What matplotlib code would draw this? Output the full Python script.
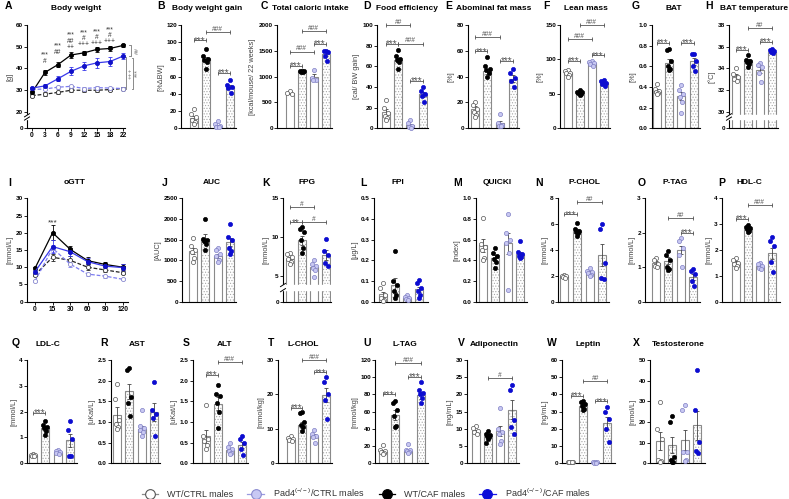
import numpy as np
import matplotlib
matplotlib.use('Agg')
import matplotlib.pyplot as plt
from matplotlib.lines import Line2D

plt.rcParams['font.family'] = ['Liberation Sans', 'DejaVu Sans']
plt.rcParams['mathtext.default'] = 'regular'
plt.rcParams['hatch.linewidth'] = 0.5

# ====================================================================
# Data
# bar panels: order WT/CTRL, WT/CAF, Pad4/CTRL, Pad4/CAF
# ====================================================================
LEGEND_LABELS = ['WT/CTRL males', 'Pad4$^{(-/-)}$/CTRL males',
                 'WT/CAF males', 'Pad4$^{(-/-)}$/CAF males']

# A - body weight over weeks
A_weeks = [0, 3, 6, 9, 12, 15, 18, 22]
A_wt_ctrl = [27.5, 28.2, 29.0, 30.0, 30.0, 30.0, 30.3, 30.8]
A_wt_ctrl_sem = [0.8, 0.8, 0.8, 0.9, 0.8, 0.8, 0.8, 0.8]
A_pad_ctrl = [30.3, 30.6, 31.4, 31.8, 30.8, 31.2, 31.0, 30.8]
A_pad_ctrl_sem = [0.6, 0.6, 0.6, 0.7, 0.6, 0.6, 0.6, 0.6]
A_wt_caf = [29.0, 38.2, 41.8, 46.2, 47.2, 48.8, 49.2, 50.6]
A_wt_caf_sem = [0.8, 1.2, 1.2, 1.2, 1.0, 1.0, 1.0, 0.6]
A_pad_caf = [31.0, 32.0, 35.3, 38.7, 41.2, 42.6, 43.2, 45.7]
A_pad_caf_sem = [0.6, 1.0, 1.2, 1.8, 2.0, 2.2, 2.0, 1.2]
# significance stacks above weeks 3..18
A_sig_text = ['***\n#', '***\n##', '***\n##\n++', '***\n#\n+++', '***\n#\n+++', '***\n#\n+++']
A_sig_y = [44.8, 48.8, 52.6, 53.8, 54.3, 55.2]

# I - oGTT over minutes
I_minutes = [0, 15, 30, 60, 90, 120]
I_wt_ctrl = [7.8, 12.9, 12.0, 10.0, 9.2, 8.4]
I_wt_ctrl_sem = [0.4, 1.0, 1.2, 0.8, 0.6, 0.5]
I_pad_ctrl = [6.0, 15.5, 10.9, 8.0, 7.4, 6.5]
I_pad_ctrl_sem = [0.3, 1.0, 0.8, 0.4, 0.4, 0.3]
I_wt_caf = [9.7, 20.0, 15.2, 11.9, 10.8, 10.0]
I_wt_caf_sem = [0.5, 2.2, 1.0, 1.0, 0.8, 0.8]
I_pad_caf = [8.7, 16.0, 14.5, 11.6, 10.3, 9.9]
I_pad_caf_sem = [0.6, 1.8, 1.2, 1.0, 1.0, 1.0]

B_mean = [12, 80, 3, 48.5]
B_sem = [2.5, 3.0, 1.2, 2.2]
B_pts = [[22, 17, 13, 10, 7, 5], [92, 84, 81, 79, 77, 69], [8, 5, 2.5, 1.5, 1], [56, 50, 48, 47, 41]]
B_sig = [(0, 1, '***', 102), (1, 3, '###', 112), (2, 3, '***', 64)]

C_mean = [690, 1100, 995, 1440]
C_sem = [25, 8, 55, 40]
C_pts = [[730, 690, 660], [1115, 1105, 1100, 1095, 1090], [1135, 975, 940, 935], [1500, 1490, 1470, 1400, 1300]]
C_sig = [(0, 1, '***', 1215), (0, 2, '###', 1485), (2, 3, '***', 1630), (1, 3, '###', 1885)]

D_mean = [15.5, 66, 3, 33]
D_sem = [2.8, 2.2, 1.3, 2.6]
D_pts = [[27, 20, 15, 12, 10, 8], [76, 70, 67, 66, 64, 57], [8, 5, 2, 1, 0.5], [40, 36, 33, 31, 25]]
D_sig = [(0, 2, '##', 100), (0, 1, '***', 82), (1, 3, '###', 82), (2, 3, '***', 46)]

E_mean = [15, 44, 4, 38.5]
E_sem = [2.0, 2.0, 1.6, 2.5]
E_pts = [[20, 18, 15, 13, 10, 9], [55, 48, 46, 45, 43, 40], [11, 4, 2.5, 2, 1.5], [46, 43, 39, 37, 32]]
E_sig = [(0, 2, '###', 71), (0, 1, '***', 59.5), (2, 3, '***', 52.5)]

F_mean = [80.5, 51.5, 94.5, 66]
F_sem = [1.8, 1.0, 1.4, 1.5]
F_pts = [[85, 83, 81, 80, 78, 75], [55, 53, 52, 51, 50, 49], [98, 96, 95, 93, 91], [70, 68, 66, 64, 62]]
F_sig = [(1, 3, '###', 150), (0, 2, '###', 129), (0, 1, '***', 98), (2, 3, '***', 106)]

G_mean = [0.365, 0.635, 0.31, 0.65]
G_sem = [0.015, 0.04, 0.04, 0.035]
G_pts = [[0.43, 0.38, 0.36, 0.35, 0.34, 0.33], [0.77, 0.76, 0.65, 0.60, 0.57, 0.56],
         [0.42, 0.37, 0.33, 0.30, 0.25, 0.15], [0.72, 0.72, 0.65, 0.60, 0.55]]
G_sig = [(0, 1, '***', 0.83), (2, 3, '***', 0.83)]

H_mean = [33.25, 34.7, 33.85, 35.5]
H_sem = [0.2, 0.15, 0.3, 0.1]
H_pts = [[34.0, 33.5, 33.2, 33.0, 32.8], [35.2, 34.8, 34.7, 34.6, 34.4, 34.1],
         [34.5, 34.3, 34.1, 33.6, 32.7], [35.8, 35.7, 35.6, 35.5, 35.4]]
H_sig = [(0, 1, '***', 35.7), (2, 3, '***', 36.45), (1, 3, '##', 37.7)]

J_mean = [1230, 1520, 1110, 1440]
J_sem = [80, 110, 45, 100]
J_pts = [[1530, 1350, 1250, 1200, 1050, 950], [2000, 1520, 1490, 1460, 1400, 1250],
         [1290, 1250, 1150, 1100, 1000, 950], [1880, 1560, 1480, 1300, 1230, 1160]]
J_sig = []

K_mean = [7.2, 9.6, 6.1, 7.75]
K_sem = [0.25, 0.55, 0.25, 0.65]
K_pts = [[8.0, 7.8, 7.4, 7.2, 6.8, 6.5], [11.3, 11.0, 10.7, 9.6, 8.6, 7.9],
         [7.0, 6.6, 6.3, 6.0, 5.8, 4.9], [9.8, 8.2, 7.7, 6.7, 6.3]]
K_sig = [(0, 2, '#', 13.9), (0, 1, '**', 11.9), (1, 3, '#', 11.9)]

L_mean = [0.035, 0.08, 0.02, 0.06]
L_sem = [0.013, 0.035, 0.005, 0.012]
L_pts = [[0.09, 0.065, 0.03, 0.02, 0.01, 0.005], [0.245, 0.1, 0.08, 0.05, 0.03, 0.02],
         [0.032, 0.025, 0.02, 0.015, 0.01], [0.105, 0.09, 0.065, 0.05, 0.03, 0.02]]
L_sig = []

M_mean = [0.545, 0.42, 0.565, 0.46]
M_sem = [0.06, 0.03, 0.1, 0.025]
M_pts = [[0.81, 0.56, 0.53, 0.5, 0.42, 0.40], [0.52, 0.47, 0.44, 0.41, 0.38, 0.33],
         [0.85, 0.66, 0.60, 0.57, 0.47, 0.11], [0.59, 0.48, 0.46, 0.44, 0.43, 0.42]]
M_sig = []

N_mean = [2.0, 5.5, 2.3, 3.6]
N_sem = [0.05, 0.15, 0.1, 0.85]
N_pts = [[2.1, 2.0, 1.95, 1.9, 1.85], [6.1, 5.6, 5.5, 5.4, 5.3, 5.05],
         [2.6, 2.4, 2.3, 2.2, 2.1, 2.0], [6.0, 5.6, 3.0, 1.8, 1.75]]
N_sig = [(0, 1, '***', 6.75), (1, 3, '##', 7.7)]

O_mean = [1.13, 1.19, 1.5, 0.71]
O_sem = [0.05, 0.1, 0.12, 0.09]
O_pts = [[1.27, 1.2, 1.1, 1.05, 1.0], [1.47, 1.35, 1.2, 1.0, 0.95, 0.93],
         [1.85, 1.75, 1.55, 1.35, 1.0], [0.95, 0.9, 0.8, 0.6, 0.45]]
O_sig = [(1, 3, '##', 2.42), (2, 3, '***', 2.0)]

P_mean = [1.5, 2.8, 1.37, 1.87]
P_sem = [0.06, 0.04, 0.06, 0.22]
P_pts = [[1.7, 1.6, 1.5, 1.45, 1.4, 1.3], [2.95, 2.9, 2.85, 2.8, 2.75, 2.7],
         [1.5, 1.45, 1.4, 1.3, 1.25], [2.5, 2.35, 2.15, 1.55, 1.15]]
P_sig = [(0, 1, '***', 3.2), (1, 3, '###', 3.75)]

Q_mean = [0.32, 1.35, 0.42, 0.9]
Q_sem = [0.02, 0.08, 0.03, 0.25]
Q_pts = [[0.36, 0.33, 0.32, 0.3, 0.28], [1.65, 1.5, 1.42, 1.35, 1.25, 1.1],
         [0.5, 0.46, 0.43, 0.4, 0.35], [1.62, 1.3, 0.95, 0.3, 0.3]]
Q_sig = [(0, 1, '***', 1.94)]

R_mean = [1.18, 1.74, 0.83, 1.25]
R_sem = [0.19, 0.19, 0.08, 0.22]
R_pts = [[1.93, 1.55, 1.05, 0.95, 0.88, 0.82], [2.3, 2.27, 1.6, 1.45, 1.15],
         [1.3, 0.9, 0.85, 0.8, 0.75, 0.65], [1.97, 1.3, 1.2, 1.1, 0.65]]
R_sig = []

S_mean = [0.65, 1.44, 0.32, 0.44]
S_sem = [0.15, 0.16, 0.04, 0.08]
S_pts = [[1.42, 0.65, 0.6, 0.55, 0.45, 0.35], [1.9, 1.68, 1.62, 1.45, 1.25, 0.85],
         [0.48, 0.4, 0.35, 0.3, 0.25, 0.22], [0.65, 0.6, 0.5, 0.35, 0.2]]
S_sig = [(0, 1, '***', 2.14), (1, 3, '###', 2.44)]

T_mean = [6.9, 11.2, 7.9, 19.9]
T_sem = [0.4, 0.9, 0.6, 2.0]
T_pts = [[7.8, 7.3, 7.0, 6.8, 6.5], [14.8, 14.5, 12.0, 11.0, 10.5, 9.5],
         [9.8, 8.5, 8.0, 7.5, 6.0], [25.0, 23.5, 20.0, 18.5, 13.0]]
T_sig = [(0, 1, '***', 16.0), (2, 3, '***', 26.4), (1, 3, '###', 30.0)]

U_mean = [13.5, 56, 13.8, 79]
U_sem = [1.5, 5.5, 1.5, 4.0]
U_pts = [[21, 16, 14, 13, 12, 11], [72, 70, 62, 55, 43, 42],
         [22, 16, 15, 14, 13, 12], [94, 85, 82, 80, 76, 70]]
U_sig = [(0, 1, '***', 80), (2, 3, '***', 100), (1, 3, '###', 116)]

V_mean = [9.3, 7.9, 9.3, 15.6]
V_sem = [0.5, 0.5, 1.4, 2.7]
V_pts = [[10.7, 10.2, 9.5, 9.0, 8.6], [9.5, 8.5, 8.2, 7.8, 7.5, 7.0, 5.8],
         [16.0, 10.0, 9.0, 8.5, 6.5, 5.5], [22.8, 21.2, 12.5, 10.5, 8.5]]
V_sig = [(1, 3, '#', 24.7)]

W_mean = [0.8, 33.5, 0.5, 23.5]
W_sem = [0.1, 0.8, 0.1, 3.5]
W_pts = [[1.0, 0.8, 0.7, 0.6, 0.5], [36.2, 35.5, 34.5, 33, 31.5, 31],
         [0.7, 0.6, 0.5, 0.4, 0.3], [32.5, 30, 26, 20, 12.5]]
W_sig = [(0, 1, '***', 39.3), (2, 3, '***', 36), (1, 3, '##', 48)]

X_mean = [10.8, 8.8, 11.2, 18.5]
X_sem = [4.5, 4.0, 5.0, 7.0]
X_pts = [[29.8, 16.5, 12, 1.5, 1.0, 0.5], [23, 20, 3.2, 1.8, 0.8, 0.5],
         [28, 26, 5.5, 5.3, 1.5, 1.0], [45, 26, 10.5, 6, 5]]
X_sig = []

# ====================================================================
# Styling
# ====================================================================
FW, FH = 789, 499
ROWS = {1: (25, 128.3), 2: (198.3, 301.7), 3: (360, 463.3)}
TITLE_Y = {1: 9, 2: 183, 3: 345}
LETTER_Y = {1: 6, 2: 182.5, 3: 343}

BAR_EDGE = '#8a8a8a'
HATCH_C = '#a8a8a8'
PT_FACE = ['white', 'black', '#c8c8f2', '#0c0cd0']
PT_EDGE = ['#555555', 'black', '#8080c4', '#0c0cd0']
SIG_C = '#555555'
OFFS = [0.0, -0.17, 0.17, -0.09, 0.09, 0.0, -0.17]

fig = plt.figure(figsize=(FW / 100, FH / 100), dpi=100)


def add_ax(left, right, row):
    top, bot = ROWS[row]
    return fig.add_axes([left / FW, 1 - bot / FH, (right - left) / FW, (bot - top) / FH])


def tick_text(ticks):
    if all(float(t).is_integer() for t in ticks):
        return ['%d' % t for t in ticks]
    return ['%.1f' % t for t in ticks]


def style(ax, yticks, ylabel):
    for s in ['top', 'right']:
        ax.spines[s].set_visible(False)
    for s in ['left', 'bottom']:
        ax.spines[s].set_linewidth(0.8)
    ax.set_yticks(yticks)
    ax.set_yticklabels(tick_text(yticks), fontweight='bold')
    ax.tick_params(axis='y', length=2, width=0.6, pad=1, labelsize=4.6)
    ax.minorticks_off()
    ax.set_ylabel(ylabel, fontsize=5.3, color='#444444', labelpad=1.5)


def set_break(ax, lo, comp):
    k = comp / lo

    def fwd(y):
        y = np.asarray(y, float)
        return np.where(y >= lo, y, lo - (lo - y) * k)

    def inv(t):
        t = np.asarray(t, float)
        return np.where(t >= lo, t, lo - (lo - t) / k)

    ax.set_yscale('function', functions=(fwd, inv))


def draw_break(ax, lo, comp, ymax, f1, f2, wpx, hpx):
    k = comp / lo
    ya, yb = lo * (1 - f2), lo * (1 - f1)
    ax.axhspan(ya, yb, xmin=-0.08, xmax=1.0, color='white', zorder=6, clip_on=False)
    tmin = lo - comp
    dx, dy = 2.5 / wpx, 1.6 / hpx
    for y in (ya, yb):
        t = lo - (lo - y) * k
        fy = (t - tmin) / (ymax - tmin)
        ax.plot([-dx, dx], [fy - dy, fy + dy], transform=ax.transAxes, color='black',
                lw=0.7, clip_on=False, zorder=7)


def bracket(ax, i, j, y, text):
    ax.plot([i, j], [y, y], color=SIG_C, lw=0.6, marker='|', ms=2.2, mew=0.6,
            clip_on=False, zorder=5)
    if '*' in text:
        fs, off = 7, -2.4
    else:
        fs, off = 4.8, 0.8
    ax.annotate(text, (0.5 * (i + j), y), xytext=(0, off), textcoords='offset points',
                ha='center', va='baseline', fontsize=fs, color=SIG_C,
                annotation_clip=False, zorder=5)


def draw_bars(ax, means, sems, pts, width):
    for i in range(4):
        if i in (1, 3):
            ax.bar(i, means[i], width, color='white', edgecolor=HATCH_C, hatch='......',
                   lw=0, zorder=1)
        ax.bar(i, means[i], width, fill=False, edgecolor=BAR_EDGE, lw=0.8, zorder=2)
        ax.errorbar(i, means[i], yerr=sems[i], fmt='none', ecolor='#444444',
                    elinewidth=0.6, capsize=1.4, capthick=0.6, zorder=3)
        vals = sorted(pts[i], reverse=True)
        xs = [i + OFFS[k % len(OFFS)] for k in range(len(vals))]
        ax.scatter(xs, vals, s=9, c=PT_FACE[i], edgecolors=PT_EDGE[i], linewidths=0.5,
                   zorder=4, clip_on=False)


def panel_text(letter, title, row, lx, cx):
    fig.text(lx / FW, 1 - LETTER_Y[row] / FH, letter, fontsize=7.5, fontweight='bold',
             ha='left', va='center')
    fig.text(cx / FW, 1 - TITLE_Y[row] / FH, title, fontsize=6, fontweight='bold',
             ha='center', va='center')


# ====================================================================
# Bar panels
# ====================================================================
# name, letter x, title, title centre x, row, left, right, first bar px, bar step px,
# ymax, ystep, ylabel
BAR_LAYOUT = [
    ('B', 157, 'Body weight gain', 207, 1, 181, 236, 193.5, 12.0, 120, 20, '[%\u0394BW]'),
    ('C', 261, 'Total caloric intake', 310, 1, 277, 332, 289.5, 12.2, 2000, 500, '[kcal/mouse/ 22 weeks]'),
    ('D', 363, 'Food efficiency', 407, 1, 377, 428, 386, 12.2, 100, 20, '[cal/ BW gain]'),
    ('E', 445, 'Abominal fat mass', 494, 1, 468, 519, 475, 12.5, 80, 20, '[%]'),
    ('F', 543, 'Lean mass', 586, 1, 560, 610, 567.5, 12.0, 150, 50, '[%]'),
    ('G', 632, 'BAT', 674, 1, 652, 700, 657, 12.2, 1.0, 0.2, '[%]'),
    ('H', 705, 'BAT temperature', 754, 1, 729, 778, 735.5, 12.2, 38, 2, '[\u00b0C]'),
    ('J', 162, 'AUC', 212, 2, 182, 236, 193, 12.3, 2500, 500, '[AUC]'),
    ('K', 262, 'FPG', 307, 2, 283, 331, 289.5, 12.3, 15, 5, '[mmol/L]'),
    ('L', 360, 'FPI', 398, 2, 374, 428, 382.5, 12.2, 0.5, 0.1, '[\u00b5g/L]'),
    ('M', 453, 'QUICKI', 497, 2, 476, 527, 483, 12.3, 1.0, 0.2, '[index]'),
    ('N', 535, 'P-CHOL', 584, 2, 558, 609, 564, 12.8, 8, 2, '[mmol/L]'),
    ('O', 638, 'P-TAG', 675, 2, 645, 700, 656, 12.3, 3, 1, '[mmol/L]'),
    ('P', 718, 'HDL-C', 749, 2, 722, 780, 735.5, 12.2, 4, 1, '[mmol/L]'),
    ('Q', 12, 'LDL-C', 48, 3, 27, 77, 33, 12.3, 4, 1, '[mmol/L]'),
    ('R', 100, 'AST', 137, 3, 111, 160, 117, 12.3, 2.5, 0.5, '[uKat/L]'),
    ('S', 183, 'ALT', 225, 3, 193, 248, 205.5, 12.2, 2.5, 0.5, '[uKat/L]'),
    ('T', 268, 'L-CHOL', 303, 3, 278, 332, 290.5, 11.9, 30, 10, '[mmol/kg]'),
    ('U', 363, 'L-TAG', 405, 3, 375, 428, 382.5, 12.8, 120, 20, '[mmol/kg]'),
    ('V', 458, 'Adiponectin', 494, 3, 467, 519, 475.5, 12.3, 30, 5, '[mg/mL]'),
    ('W', 547, 'Leptin', 588, 3, 562, 615, 570.5, 12.3, 60, 10, '[ng/mL]'),
    ('X', 633, 'Testosterone', 678, 3, 650, 705, 659.5, 12.5, 50, 10, '[nmol/L]'),
]

BAR_DATA = {
    'B': (B_mean, B_sem, B_pts, B_sig), 'C': (C_mean, C_sem, C_pts, C_sig),
    'D': (D_mean, D_sem, D_pts, D_sig), 'E': (E_mean, E_sem, E_pts, E_sig),
    'F': (F_mean, F_sem, F_pts, F_sig), 'G': (G_mean, G_sem, G_pts, G_sig),
    'H': (H_mean, H_sem, H_pts, H_sig), 'J': (J_mean, J_sem, J_pts, J_sig),
    'K': (K_mean, K_sem, K_pts, K_sig), 'L': (L_mean, L_sem, L_pts, L_sig),
    'M': (M_mean, M_sem, M_pts, M_sig), 'N': (N_mean, N_sem, N_pts, N_sig),
    'O': (O_mean, O_sem, O_pts, O_sig), 'P': (P_mean, P_sem, P_pts, P_sig),
    'Q': (Q_mean, Q_sem, Q_pts, Q_sig), 'R': (R_mean, R_sem, R_pts, R_sig),
    'S': (S_mean, S_sem, S_pts, S_sig), 'T': (T_mean, T_sem, T_pts, T_sig),
    'U': (U_mean, U_sem, U_pts, U_sig), 'V': (V_mean, V_sem, V_pts, V_sig),
    'W': (W_mean, W_sem, W_pts, W_sig), 'X': (X_mean, X_sem, X_pts, X_sig),
}

# broken axes: name -> (break value, compressed span, gap fractions)
BREAKS = {'H': (30, 1.54, 0.22, 0.42), 'K': (5, 3.3, 0.35, 0.55)}

for name, lx, title, tcx, row, left, right, c0, step, ymax, ystep, ylabel in BAR_LAYOUT:
    ax = add_ax(left, right, row)
    means, sems, pts, sig = BAR_DATA[name]
    if name in BREAKS:
        lo, comp, f1, f2 = BREAKS[name]
        set_break(ax, lo, comp)
        yticks = [0] + list(np.arange(lo, ymax + ystep / 2, ystep))
    else:
        yticks = list(np.arange(0, ymax + ystep / 2, ystep))
    draw_bars(ax, means, sems, pts, 8.0 / step)
    for i, j, txt, y in sig:
        bracket(ax, i, j, y, txt)
    style(ax, yticks, ylabel)
    ax.set_xticks([])
    ax.set_xlim((left - c0) / step, (right - c0) / step)
    ax.set_ylim(0, ymax)
    if name in BREAKS:
        top, bot = ROWS[row]
        draw_break(ax, lo, comp, ymax, f1, f2, right - left, bot - top)
    panel_text(name, title, row, lx, tcx)


# ====================================================================
# Line panels (A: body weight, I: oGTT)
# ====================================================================
def line_series(ax, x, series):
    for means, sems, lc, ls, mf, me in series:
        ax.errorbar(x, means, yerr=sems, color=lc, ls=ls, lw=0.9, marker='o', ms=3,
                    mfc=mf, mec=me, mew=0.6, ecolor=lc, elinewidth=0.6, capsize=1.3,
                    capthick=0.6, zorder=3, clip_on=False)


DASH = (0, (3, 1.5))

# --- A ---
axA = add_ax(27, 125, 1)
set_break(axA, 20, 7.5)
xA = np.arange(len(A_weeks))
line_series(axA, xA, [
    (A_wt_ctrl, A_wt_ctrl_sem, '#222222', DASH, 'white', '#333333'),
    (A_pad_ctrl, A_pad_ctrl_sem, '#7c7cf0', DASH, 'white', '#8a8ad0'),
    (A_wt_caf, A_wt_caf_sem, 'black', '-', 'black', 'black'),
    (A_pad_caf, A_pad_caf_sem, '#3838ea', '-', '#1010c8', '#1010c8'),
])
for k, txt in enumerate(A_sig_text):
    axA.text(xA[k + 1], A_sig_y[k], txt, fontsize=4.8, ha='center', va='center',
             linespacing=0.8, color='#333333')


def vbracket(ax, x, y1, y2, text, tx):
    ax.plot([x - 0.12, x, x, x - 0.12], [y1, y1, y2, y2], color='#777777', lw=0.6,
            clip_on=False)
    ax.text(tx, 0.5 * (y1 + y2), text, rotation=90, ha='center', va='center',
            fontsize=5 if '*' in text else 4.5, color='#777777', clip_on=False)


pxA = lambda p: (p - 32) / 13.0
vbracket(axA, pxA(131), A_wt_caf[-1], A_pad_caf[-1], '##', pxA(137))
vbracket(axA, pxA(126), A_pad_caf[-1] - 0.6, A_pad_ctrl[-1], '+++', pxA(130))
vbracket(axA, pxA(133.5), A_pad_caf[-1] - 1.0, A_wt_ctrl[-1], '***', pxA(138))

style(axA, [0, 20, 30, 40, 50, 60], '[g]')
axA.set_xticks(xA)
axA.set_xticklabels([str(w) for w in A_weeks], fontweight='bold')
axA.tick_params(axis='x', length=2, width=0.6, pad=1, labelsize=4.8)
axA.set_xlim(pxA(27), pxA(125))
axA.set_ylim(0, 60)
draw_break(axA, 20, 7.5, 60, 0.2, 0.4, 98, 103.3)
panel_text('A', 'Body weight', 1, 5, 76)

# --- I ---
axI = add_ax(27, 128, 2)
xI = np.arange(len(I_minutes))
line_series(axI, xI, [
    (I_wt_ctrl, I_wt_ctrl_sem, '#222222', DASH, 'white', '#333333'),
    (I_pad_ctrl, I_pad_ctrl_sem, '#7c7cf0', DASH, 'white', '#8a8ad0'),
    (I_wt_caf, I_wt_caf_sem, 'black', '-', 'black', 'black'),
    (I_pad_caf, I_pad_caf_sem, '#3838ea', '-', '#1010c8', '#1010c8'),
])
axI.text(xI[1], 23.0, '***', fontsize=6, ha='center', va='center', color='#333333')
style(axI, list(range(0, 31, 5)), '[mmol/L]')
axI.set_xticks(xI)
axI.set_xticklabels([str(m) for m in I_minutes], fontweight='bold')
axI.tick_params(axis='x', length=2, width=0.6, pad=1, labelsize=4.8)
pxI = lambda p: (p - 35) / 17.6
axI.set_xlim(pxI(27), pxI(128))
axI.set_ylim(0, 30)
panel_text('I', 'oGTT', 2, 8, 75)

# ====================================================================
# Legend
# ====================================================================
LEG_STYLE = [('#8a8a8a', 'white', '#555555'), ('#9a9ae0', '#c8c8f4', '#8a8ad0'),
             ('black', 'black', 'black'), ('#1a1ae6', '#0c0cd8', '#0c0cd8')]
handles = [Line2D([0], [0], color=lc, lw=0.9, marker='o', ms=7, mfc=mf, mec=me, mew=0.8)
           for lc, mf, me in LEG_STYLE]
fig.legend(handles, LEGEND_LABELS, loc='center', bbox_to_anchor=(366 / FW, 1 - 493 / FH),
           ncol=4, frameon=False, fontsize=6.5, handlelength=1.8, handletextpad=1.0,
           columnspacing=1.6, borderaxespad=0, borderpad=0, labelcolor='#333333')

fig.savefig('out.png', dpi=100)
